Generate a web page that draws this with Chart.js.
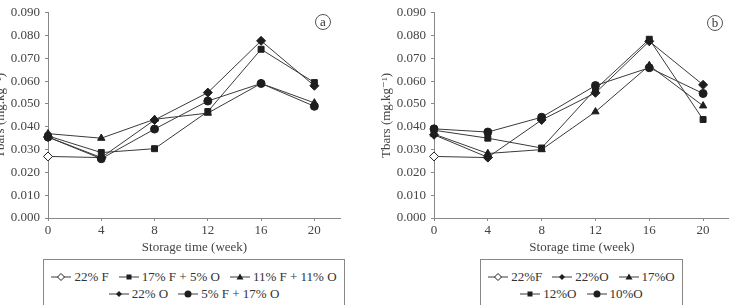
<!DOCTYPE html>
<html>
<head>
<meta charset="utf-8">
<script src="https://cdn.jsdelivr.net/npm/chart.js@4/dist/chart.umd.min.js"></script>
<style>
  html, body { margin: 0; padding: 0; background: #fff; }
  body { width: 729px; height: 305px; position: relative; overflow: hidden; font-family: "Liberation Serif", "DejaVu Serif", serif; color: #333; }
  .wrap { position: absolute; top: 0; height: 256px; }
  .legend { position: absolute; top: 259px; height: 60px; border: 1px solid #888; box-sizing: border-box; font-size: 13px; color: #333; }
  .row { display: flex; justify-content: center; align-items: center; height: 17px; white-space: nowrap; }
  .row:first-child { margin-top: 8px; }
  .item { display: flex; align-items: center; margin: 0 5px; }
  .item svg { margin-right: 3px; }
  .tag { position: absolute; width: 16px; height: 16px; border: 1px solid #555; border-radius: 50%; box-sizing: border-box; font-size: 13px; line-height: 13px; text-align: center; color: #333; }
</style>
</head>
<body>
<div class="wrap" style="left:-21px;width:362px"><canvas id="chartA"></canvas></div>
<div class="wrap" style="left:365px;width:365px"><canvas id="chartB"></canvas></div>
<div class="tag" style="left:315px;top:14px">a</div>
<div class="tag" style="left:707px;top:15px">b</div>
<div class="legend" id="legendA" style="left:43px;width:302px"></div>
<div class="legend" id="legendB" style="left:480px;width:203px"></div>
<script>
const weeks = [0, 4, 8, 12, 16, 20];
const xTicks = [0, 4, 8, 12, 16, 20];
const xMax = 22;
const yMax = 0.09;
const yStep = 0.01;

// panel a
const labelsA = ["22% F", "17% F + 5% O", "11% F + 11% O", "22% O", "5% F + 17% O"];
const aF22 = [0.027, 0.0265, null, null, null, null];
const aF17O5 = [0.036, 0.0287, 0.0304, 0.0467, 0.074, 0.0594];
const aF11O11 = [0.037, 0.035, 0.0433, 0.046, 0.059, 0.0505];
const aO22 = [0.0355, 0.0265, 0.043, 0.055, 0.0777, 0.058];
const aF5O17 = [0.0355, 0.026, 0.039, 0.0513, 0.059, 0.049];

// panel b
const labelsB = ["22%F", "22%O", "17%O", "12%O", "10%O"];
const bF22 = [0.027, 0.0265, null, null, null, null];
const bO22 = [0.0365, 0.0266, 0.043, 0.0549, 0.0775, 0.0584];
const bO17 = [0.0368, 0.0283, 0.030, 0.0466, 0.0669, 0.0492];
const bO12 = [0.0385, 0.035, 0.0307, 0.0565, 0.0784, 0.0432];
const bO10 = [0.0391, 0.0377, 0.0442, 0.0581, 0.0659, 0.0546];

const LINE = "#3a3a3a";
const MARK = "#1e1e1e";
const AXIS = "#888";
const TXT = "#444";

const styles = {
  open:     { pointStyle: "rectRot", radius: 4.5, fill: "#fff" },
  diamond:  { pointStyle: "rectRot", radius: 4.5, fill: MARK },
  square:   { pointStyle: "rect", radius: 4.2, fill: MARK },
  triangle: { pointStyle: "triangle", radius: 4.2, fill: MARK },
  circle:   { pointStyle: "circle", radius: 4, fill: MARK }
};

function makeDataset(label, values, kind, order) {
  const s = styles[kind];
  return {
    label,
    data: weeks.map((w, i) => ({ x: w, y: values[i] })),
    borderColor: LINE,
    borderWidth: 1,
    pointStyle: s.pointStyle,
    pointRadius: s.radius,
    pointBackgroundColor: s.fill,
    pointBorderColor: MARK,
    pointBorderWidth: 1,
    tension: 0,
    spanGaps: false,
    clip: false,
    order
  };
}

function makeChart(id, datasets) {
  const font = { family: "'Liberation Serif', 'DejaVu Serif', serif", size: 13 };
  return new Chart(document.getElementById(id), {
    type: "line",
    data: { datasets },
    options: {
      responsive: true,
      maintainAspectRatio: false,
      animation: false,
      layout: { autoPadding: false, padding: { top: 6, right: 0, bottom: 0, left: 0 } },
      plugins: { legend: { display: false }, tooltip: { enabled: false } },
      scales: {
        x: {
          type: "linear",
          min: 0,
          max: xMax,
          afterBuildTicks: (scale) => { scale.ticks = xTicks.map(v => ({ value: v })); },
          afterFit: (scale) => { scale.height = 38; },
          ticks: { color: TXT, font, padding: 2, maxRotation: 0, callback: v => String(v) },
          grid: { drawOnChartArea: false, tickLength: 3, tickColor: AXIS, color: AXIS },
          border: { color: AXIS, width: 1 },
          title: { display: true, text: "Storage time (week)", color: TXT, font, padding: { top: 0, bottom: 1 } }
        },
        y: {
          min: 0,
          max: yMax,
          afterFit: (scale) => { scale.width = 69; },
          ticks: { stepSize: yStep, color: TXT, font, padding: 5, callback: v => Number(v).toFixed(3) },
          grid: { drawOnChartArea: false, tickLength: 3, tickColor: AXIS, color: AXIS },
          border: { color: AXIS, width: 1 },
          title: { display: true, text: "Tbars (mg.kg\u207B\u00B9)", color: TXT, font, padding: { top: 14, bottom: 0 } }
        }
      }
    }
  });
}

makeChart("chartA", [
  makeDataset(labelsA[0], aF22, "open", 5),
  makeDataset(labelsA[1], aF17O5, "square", 0),
  makeDataset(labelsA[2], aF11O11, "triangle", 0),
  makeDataset(labelsA[3], aO22, "diamond", 0),
  makeDataset(labelsA[4], aF5O17, "circle", 0)
]);

makeChart("chartB", [
  makeDataset(labelsB[0], bF22, "open", 5),
  makeDataset(labelsB[1], bO22, "diamond", 0),
  makeDataset(labelsB[2], bO17, "triangle", 0),
  makeDataset(labelsB[3], bO12, "square", 0),
  makeDataset(labelsB[4], bO10, "circle", 0)
]);

// legend icons
function icon(kind) {
  let m = "";
  if (kind === "open") m = '<polygon points="10,1.5 13.5,5 10,8.5 6.5,5" fill="#fff" stroke="#1e1e1e"/>';
  if (kind === "diamond") m = '<polygon points="10,2 13,5 10,8 7,5" fill="#1e1e1e"/>';
  if (kind === "square") m = '<rect x="7.5" y="2.5" width="5" height="5" fill="#1e1e1e"/>';
  if (kind === "triangle") m = '<polygon points="10,1.5 13.5,7.5 6.5,7.5" fill="#1e1e1e"/>';
  if (kind === "circle") m = '<circle cx="10" cy="5" r="3.5" fill="#1e1e1e"/>';
  return '<svg width="20" height="10"><line x1="0" y1="5" x2="20" y2="5" stroke="#3a3a3a" stroke-width="1"/>' + m + '</svg>';
}

function buildLegend(id, rows) {
  const el = document.getElementById(id);
  el.innerHTML = rows.map(r =>
    '<div class="row">' + r.map(([label, kind]) =>
      '<span class="item">' + icon(kind) + '<span>' + label + '</span></span>').join("") + '</div>'
  ).join("");
}

buildLegend("legendA", [
  [[labelsA[0], "open"], [labelsA[1], "square"], [labelsA[2], "triangle"]],
  [[labelsA[3], "diamond"], [labelsA[4], "circle"]]
]);
buildLegend("legendB", [
  [[labelsB[0], "open"], [labelsB[1], "diamond"], [labelsB[2], "triangle"]],
  [[labelsB[3], "square"], [labelsB[4], "circle"]]
]);
</script>
</body>
</html>
